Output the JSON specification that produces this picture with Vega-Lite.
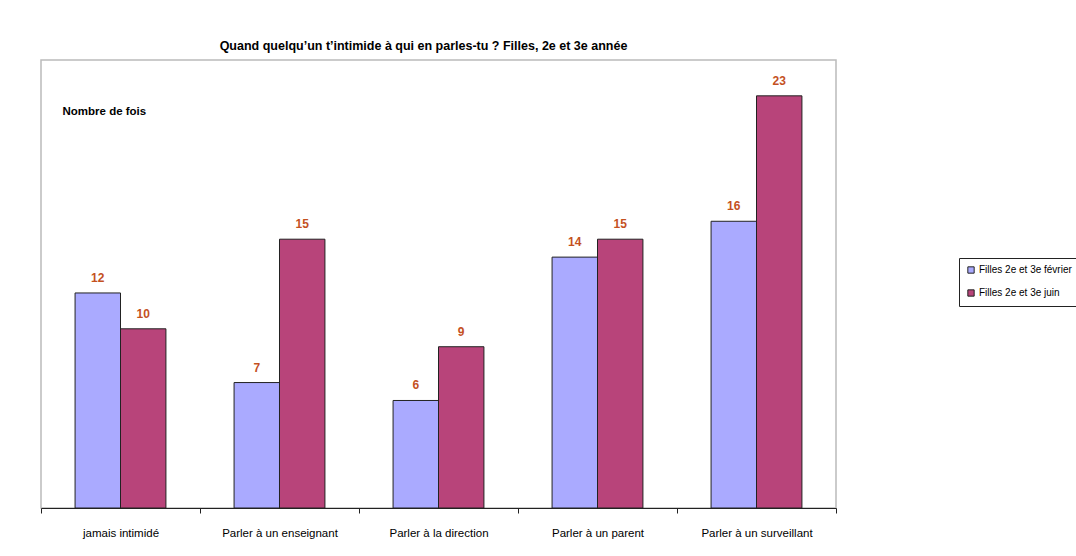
{
  "$schema": "https://vega.github.io/schema/vega-lite/v6.json",
  "width": 795,
  "height": 448,
  "autosize": {"type": "none"},
  "padding": {"left": 41, "top": 60, "right": 240, "bottom": 48},
  "background": "white",
  "title": {
    "text": "Quand quelqu’un t’intimide à qui en parles-tu ? Filles, 2e et 3e année",
    "font": "Liberation Sans",
    "fontSize": 12.5,
    "fontWeight": "bold",
    "color": "black",
    "anchor": "middle",
    "dx": -15,
    "offset": 8
  },
  "data": {
    "values": [
      {"cat": "jamais intimidé", "series": "Filles 2e et 3e février", "value": 12},
      {"cat": "jamais intimidé", "series": "Filles 2e et 3e juin", "value": 10},
      {"cat": "Parler à un enseignant", "series": "Filles 2e et 3e février", "value": 7},
      {"cat": "Parler à un enseignant", "series": "Filles 2e et 3e juin", "value": 15},
      {"cat": "Parler à la direction", "series": "Filles 2e et 3e février", "value": 6},
      {"cat": "Parler à la direction", "series": "Filles 2e et 3e juin", "value": 9},
      {"cat": "Parler à un parent", "series": "Filles 2e et 3e février", "value": 14},
      {"cat": "Parler à un parent", "series": "Filles 2e et 3e juin", "value": 15},
      {"cat": "Parler à un surveillant", "series": "Filles 2e et 3e février", "value": 16},
      {"cat": "Parler à un surveillant", "series": "Filles 2e et 3e juin", "value": 23}
    ]
  },
  "encoding": {
    "x": {
      "field": "cat",
      "type": "nominal",
      "sort": ["jamais intimidé", "Parler à un enseignant", "Parler à la direction", "Parler à un parent", "Parler à un surveillant"],
      "scale": {"paddingInner": 0, "paddingOuter": 0},
      "axis": {
        "title": null,
        "labelAngle": 0,
        "tickBand": "extent",
        "domainColor": "#222222",
        "tickColor": "#222222",
        "tickSize": 5,
        "labelFont": "Liberation Sans",
        "labelFontSize": 11.5,
        "labelColor": "black",
        "labelPadding": 14
      }
    },
    "xOffset": {
      "field": "series",
      "type": "nominal",
      "scale": {"paddingInner": 0, "paddingOuter": 0.75}
    },
    "y": {
      "field": "value",
      "type": "quantitative",
      "scale": {"domain": [0, 25], "nice": false},
      "axis": {
        "ticks": false,
        "labels": false,
        "domain": false,
        "grid": false,
        "title": "Nombre de fois",
        "titleAngle": 0,
        "titleX": 21,
        "titleY": 51,
        "titleAlign": "left",
        "titleBaseline": "middle",
        "titleFont": "Liberation Sans",
        "titleFontSize": 11.5,
        "titleFontWeight": "bold",
        "titleColor": "black"
      }
    }
  },
  "layer": [
    {
      "mark": {"type": "bar", "stroke": "#222222", "strokeWidth": 1},
      "encoding": {
        "color": {
          "field": "series",
          "type": "nominal",
          "scale": {"domain": ["Filles 2e et 3e février", "Filles 2e et 3e juin"], "range": ["#AAAAFF", "#B8447A"]},
          "legend": {
            "title": null,
            "orient": "none",
            "legendX": 918,
            "legendY": 198,
            "strokeColor": "#222222",
            "padding": 7,
            "symbolType": "square",
            "symbolSize": 40,
            "symbolStrokeColor": "#222222",
            "symbolStrokeWidth": 1,
            "labelFont": "Liberation Sans",
            "labelFontSize": 10,
            "labelColor": "black",
            "labelOffset": 3,
            "rowPadding": 11
          }
        }
      }
    },
    {
      "mark": {"type": "text", "baseline": "bottom", "dy": -8, "font": "Liberation Sans", "fontSize": 12, "fontWeight": "bold", "color": "#C4511F"},
      "encoding": {
        "text": {"field": "value", "type": "quantitative"}
      }
    }
  ],
  "config": {
    "view": {"stroke": "#BBBBBB", "strokeWidth": 1.5}
  }
}
